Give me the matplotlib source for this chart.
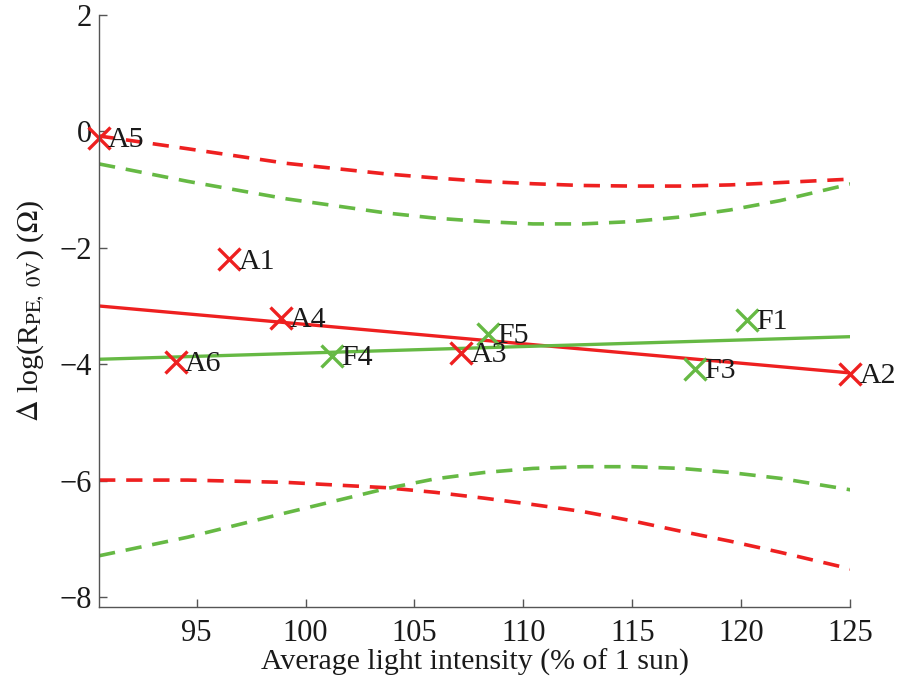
import matplotlib
matplotlib.use("Agg")
import matplotlib.pyplot as plt

plt.rcParams['font.family'] = ['Liberation Serif', 'DejaVu Serif']
plt.rcParams['mathtext.fontset'] = 'stix'

RED = '#ee2020'
GREEN = '#66b944'

# Samples (A = red, F = green)
a_names = ['A5', 'A1', 'A6', 'A4', 'A3', 'A2']
a_x = [90.52, 96.5, 94.05, 98.85, 107.16, 125.02]
a_y = [-0.11, -2.2, -3.955, -3.21, -3.80, -4.17]

f_names = ['F4', 'F5', 'F3', 'F1']
f_x = [101.2, 108.39, 117.89, 120.27]
f_y = [-3.86, -3.486, -4.086, -3.245]

# Fit lines (end points)
fit_x = [90.52, 125.02]
red_fit = [-3.00, -4.15]
green_fit = [-3.915, -3.527]

# Confidence bands
band_x = [90.52, 94.6, 99.13, 103.66, 105.93, 108.19, 110.44, 112.72, 114.99, 117.25, 119.5, 121.79, 125.07]
red_upper = [-0.08, -0.30, -0.55, -0.73, -0.80, -0.86, -0.90, -0.93, -0.94, -0.94, -0.92, -0.88, -0.82]
red_lower = [-5.99, -5.99, -6.03, -6.12, -6.20, -6.30, -6.41, -6.53, -6.69, -6.87, -7.04, -7.23, -7.52]
green_upper = [-0.56, -0.86, -1.16, -1.40, -1.49, -1.55, -1.59, -1.59, -1.55, -1.47, -1.35, -1.19, -0.90]
green_lower = [-7.29, -6.97, -6.55, -6.14, -5.97, -5.86, -5.79, -5.76, -5.76, -5.79, -5.86, -5.96, -6.16]

x_ticks = [95, 100, 105, 110, 115, 120, 125]
y_ticks = [-8, -6, -4, -2, 0, 2]

fig = plt.figure(figsize=(9.01, 6.77), dpi=100)
ax = fig.add_axes([0.110, 0.1034, 0.8334, 0.8746])

dash = (4.5, 3.0)
lw = 2.6
ax.plot(band_x, red_upper, color=RED, lw=lw, dashes=dash)
ax.plot(band_x, red_lower, color=RED, lw=lw, dashes=dash)
ax.plot(band_x, green_upper, color=GREEN, lw=lw, dashes=dash)
ax.plot(band_x, green_lower, color=GREEN, lw=lw, dashes=dash)
ax.plot(fit_x, red_fit, color=RED, lw=2.4)
ax.plot(fit_x, green_fit, color=GREEN, lw=2.4)

ax.plot(a_x, a_y, linestyle='none', marker='x', ms=15.5, mew=2.4, color=RED, clip_on=False)
ax.plot(f_x, f_y, linestyle='none', marker='x', ms=15.5, mew=2.4, color=GREEN, clip_on=False)

for n, x, y in zip(a_names, a_x, a_y):
    ax.annotate(n, (x, y), xytext=(6.5, -1.5), textcoords='offset points',
                ha='left', va='center', fontsize=21.5, color='#1a1a1a')
for n, x, y in zip(f_names, f_x, f_y):
    ax.annotate(n, (x, y), xytext=(6.5, -1.5), textcoords='offset points',
                ha='left', va='center', fontsize=21.5, color='#1a1a1a')

ax.set_xlim(90.52, 125.0)
ax.set_ylim(-8.17, 2.0)
ax.set_xticks(x_ticks)
ax.set_yticks(y_ticks)
ax.set_yticklabels(['\u22128', '\u22126', '\u22124', '\u22122', '0', '2'])

for s in ['top', 'right']:
    ax.spines[s].set_visible(False)
for s in ['left', 'bottom']:
    ax.spines[s].set_color('#555555')
    ax.spines[s].set_linewidth(1.0)
ax.tick_params(direction='in', length=6, width=1.0, color='#555555',
               labelsize=22, labelcolor='#1a1a1a')
ax.tick_params(axis='x', pad=9)
ax.tick_params(axis='y', pad=5)

ax.set_xlabel('Average light intensity (% of 1 sun)', fontsize=21.5, color='#1a1a1a', labelpad=0)
ax.set_ylabel(r'$\Delta$ log(R$_{\mathrm{PE,\ 0V}}$) ($\Omega$)', fontsize=21.5, color='#1a1a1a', labelpad=9)

fig.savefig('out.png', dpi=100)
